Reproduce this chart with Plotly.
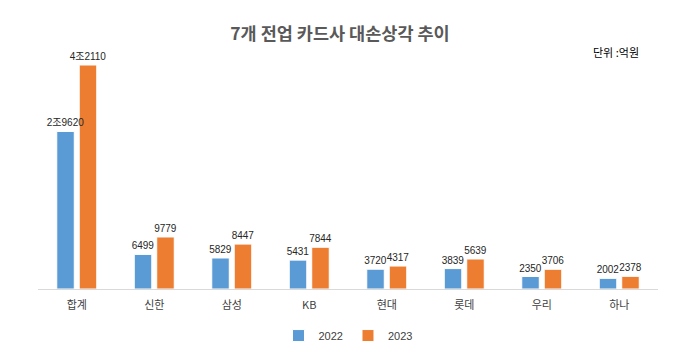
import plotly.graph_objects as go

categories = ["합계", "신한", "삼성", "KB", "현대", "롯데", "우리", "하나"]
v2022 = [29620, 6499, 5829, 5431, 3720, 3839, 2350, 2002]
v2023 = [42110, 9779, 8447, 7844, 4317, 5639, 3706, 2378]
lab2022 = ["2조9620", "6499", "5829", "5431", "3720", "3839", "2350", "2002"]
lab2023 = ["4조2110", "9779", "8447", "7844", "4317", "5639", "3706", "2378"]

font = "Noto Sans CJK KR"
numfont = "Liberation Sans, Noto Sans CJK KR"
fig = go.Figure()
# orange drawn first so the blue labels sit on top of it
fig.add_trace(go.Bar(x=categories, y=v2023, name="2023", text=lab2023,
                     textposition="outside", constraintext="none",
                     width=0.226, offset=0.032,
                     marker=dict(color="#ED7D31", line=dict(color="white", width=1)),
                     textfont=dict(size=10, color="#262626", family=numfont), cliponaxis=False))
fig.add_trace(go.Bar(x=categories, y=v2022, name="2022", text=lab2022,
                     textposition="outside", constraintext="none",
                     width=0.226, offset=-0.258,
                     marker=dict(color="#5B9BD5", line=dict(color="white", width=1)),
                     textfont=dict(size=10, color="#262626", family=numfont), cliponaxis=False))

fig.update_layout(
    width=680, height=352,
    margin=dict(l=38, r=22, t=60, b=63, autoexpand=False),
    paper_bgcolor="white", plot_bgcolor="white",
    barmode="overlay",
    font=dict(family=font, size=11, color="#404040"),
    title=dict(text="<b>7개 전업 카드사 대손상각 추이</b>", x=0.5, xanchor="center", y=0.905, yanchor="middle",
               font=dict(size=17.5, color="#595959", family=font)),
    xaxis=dict(showline=True, linecolor="#D9D9D9", linewidth=1, ticks="", ticklabelstandoff=6,
               tickfont=dict(size=11, color="#404040")),
    yaxis=dict(visible=False, range=[0, 43050]),
    legend=dict(orientation="h", x=0.5, xanchor="center", y=-0.14, yanchor="top", traceorder="reversed",
                font=dict(size=11, color="#404040", family=numfont), itemwidth=30),
    uniformtext=dict(mode=False),
)
fig.layout.annotations = [dict(text="단위 :억원", xref="paper", yref="paper", x=0.973, y=1.035,
                               xanchor="right", yanchor="middle", showarrow=False,
                               font=dict(size=11, color="#000000", family=font))]
fig.write_html("out.html")
